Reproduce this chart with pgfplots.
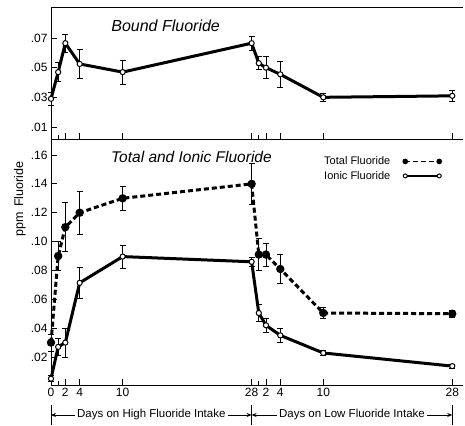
\documentclass[border=0pt]{standalone}
\usepackage{fontspec}
\setmainfont{Liberation Sans}
\usepackage{pgfplots}
\usepackage{pgfplotstable}
\pgfplotsset{compat=1.18}
\usetikzlibrary{arrows.meta}

% day (low phase continues after day 28), value, error
\pgfplotstableread{
d v e
0 0.029 0.0045
1 0.047 0.0065
2 0.0665 0.006
4 0.0525 0.010
10 0.047 0.008
28 0.0665 0.0047
29 0.053 0.0045
30 0.050 0.0075
32 0.0455 0.0085
38 0.030 0.0025
56 0.031 0.0035
}\bound
\pgfplotstableread{
d v e
0 0.030 0.006
1 0.090 0.010
2 0.110 0.017
4 0.120 0.015
10 0.130 0.0085
28 0.140 0.014
29 0.091 0.011
30 0.091 0.008
32 0.081 0.010
38 0.0505 0.004
56 0.050 0.0025
}\total
\pgfplotstableread{
d v e
0 0.005 0.002
1 0.027 0.0057
2 0.030 0.010
4 0.0714 0.011
10 0.0896 0.008
28 0.086 0.003
29 0.0505 0.006
30 0.042 0.005
32 0.035 0.005
38 0.0228 0.0015
56 0.0137 0.0015
}\ionic

\newcommand{\ticks}{\fontsize{12}{14}\selectfont}
\pgfplotsset{
  fl/.style={scale only axis, width=412pt, xmin=0, xmax=57.5, clip=false,
    scaled ticks=false,
    axis lines*=left, axis line style={-, line width=0.9pt},
    tick align=inside, major tick length=6pt, minor tick length=4pt,
    tick style={line width=0.8pt, black},
    xtick={0,2,4,10,28,30,32,38,56}, minor xtick={1,29},
    tick label style={font=\ticks},
    error bars/y dir=both, error bars/y explicit,
    error bars/error bar style={solid, line width=0.8pt},
    error bars/error mark options={rotate=90, mark size=3pt, line width=0.8pt},
  },
  ends/.style={legend image code/.code={
    \draw[##1, line width=1.6pt, mark size=2pt] plot coordinates {(0pt,0pt) (34pt,0pt)};}},
  openline/.style={black, line width=3pt, mark=*, mark size=2.6pt,
    mark options={solid, fill=white, line width=1pt}},
  fullline/.style={black, line width=3pt, dash pattern=on 5pt off 3pt,
    mark=*, mark size=2.6pt, mark options={solid, fill=black}},
}

\begin{document}
\begin{tikzpicture}
\useasboundingbox (-51pt,-40pt) rectangle (414pt,385pt);
\begin{axis}[fl, name=bot, height=246pt,
  ymin=0.0006, ymax=0.1711,
  ytick={0.02,0.04,0.06,0.08,0.10,0.12,0.14,0.16},
  yticklabels={.02,.04,.06,.08,.10,.12,.14,.16},
  xticklabels={0,2,4,10,28,2,4,10,28},
  legend style={draw=none, fill=none, at={(0.955,0.945)}, anchor=north east,
    font=\fontsize{11}{13}\selectfont, row sep=1pt, column sep=11pt},
  legend plot pos=right, legend cell align=left,
]
\addplot[fullline, ends] table[x=d, y=v, y error=e] {\total};
\addlegendentry{Total Fluoride}
\addplot[openline, ends] table[x=d, y=v, y error=e] {\ionic};
\addlegendentry{Ionic Fluoride}
\node[font=\fontsize{15.5}{18}\selectfont\itshape] at (axis cs:19.6,0.1586) {Total and Ionic Fluoride};
\node[rotate=90, font=\fontsize{12.5}{15}\selectfont] at ([xshift=-31pt]rel axis cs:0,0.756) {ppm\, Fluoride};
\draw[line width=0.9pt] ([yshift=-20pt]rel axis cs:0,0) -- ([yshift=-40pt]rel axis cs:0,0);
\draw[line width=0.9pt] ([yshift=-20pt]axis cs:28,0.0006) -- ([yshift=-40pt]axis cs:28,0.0006);
\draw[line width=0.9pt] ([yshift=-20pt]axis cs:56,0.0006) -- ([yshift=-40pt]axis cs:56,0.0006);
\node[font=\fontsize{11.5}{14}\selectfont, inner sep=2pt] (h) at ([yshift=-30pt]axis cs:14,0.0006) {Days on High Fluoride Intake};
\node[font=\fontsize{11.5}{14}\selectfont, inner sep=2pt] (l) at ([yshift=-30pt]axis cs:42,0.0006) {Days on Low Fluoride Intake};
\draw[-{Stealth[length=5pt,width=4pt]}, line width=0.8pt] (h.west) -- ([yshift=-30pt]axis cs:0,0.0006);
\draw[-{Stealth[length=5pt,width=4pt]}, line width=0.8pt] (h.east) -- ([yshift=-30pt]axis cs:28,0.0006);
\draw[-{Stealth[length=5pt,width=4pt]}, line width=0.8pt] (l.west) -- ([yshift=-30pt]axis cs:28,0.0006);
\draw[-{Stealth[length=5pt,width=4pt]}, line width=0.8pt] (l.east) -- ([yshift=-30pt]axis cs:56,0.0006);
\end{axis}
\begin{axis}[fl, at={(bot.north west)}, anchor=south west, height=132pt,
  ymin=0.0019, ymax=0.0909,
  ytick={0.01,0.03,0.05,0.07}, yticklabels={.01,.03,.05,.07},
  xticklabels={},
]
\addplot[openline] table[x=d, y=v, y error=e] {\bound};
\draw[line width=0.9pt] (rel axis cs:0,1) -- (rel axis cs:1,1);
\node[font=\fontsize{16}{19}\selectfont\itshape] at (axis cs:16,0.078) {Bound Fluoride};
\end{axis}
\end{tikzpicture}
\end{document}
